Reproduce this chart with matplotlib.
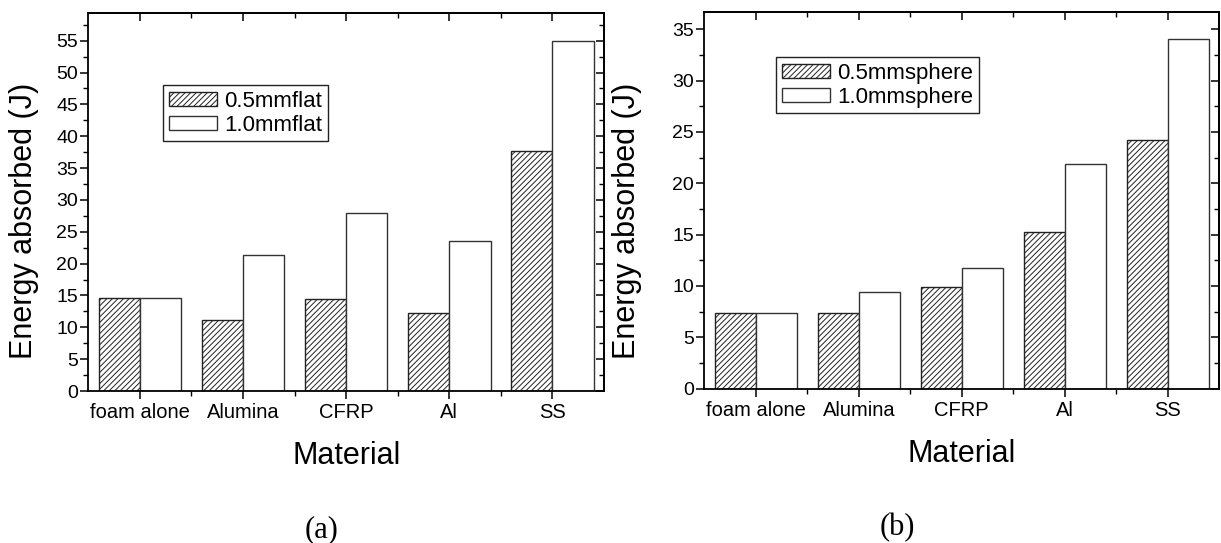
import numpy as np
import matplotlib
matplotlib.use("Agg")
import matplotlib.pyplot as plt
from matplotlib.ticker import MultipleLocator

plt.rcParams['font.family'] = ['Liberation Sans', 'DejaVu Sans']
plt.rcParams['hatch.linewidth'] = 0.7

materials = ["foam alone", "Alumina", "CFRP", "Al", "SS"]

# (a) flat impactor
flat_labels = ["0.5mmflat", "1.0mmflat"]
flat_05 = [14.6, 11.2, 14.4, 12.2, 37.7]
flat_10 = [14.6, 21.3, 27.9, 23.5, 55.0]

# (b) spherical impactor
sphere_labels = ["0.5mmsphere", "1.0mmsphere"]
sphere_05 = [7.34, 7.4, 9.88, 15.23, 24.2]
sphere_10 = [7.34, 9.39, 11.76, 21.86, 34.03]

W, H = 1221, 543
fig = plt.figure(figsize=(W / 100, H / 100), dpi=100)


def fx(px):
    return px / W


def fy(py):
    return 1 - py / H


def panel(rect, a, b, labels, ymax, legend_box):
    ax = fig.add_axes(rect)
    x = np.arange(len(materials))
    bw = 0.4
    ax.bar(x - bw / 2, a, bw, facecolor='white', edgecolor='#222222',
           hatch='//////', linewidth=1.0, label=labels[0])
    ax.bar(x + bw / 2, b, bw, facecolor='white', edgecolor='#333333',
           linewidth=1.0, label=labels[1])
    ax.set_xlim(-0.5, 4.5)
    ax.set_ylim(0, ymax)
    ax.set_xticks(x)
    ax.set_xticklabels(materials)
    ax.set_xticks(x[:-1] + 0.5, minor=True)
    ax.yaxis.set_major_locator(MultipleLocator(5))
    ax.yaxis.set_minor_locator(MultipleLocator(2.5))
    for s in ax.spines.values():
        s.set_linewidth(1.3)
        s.set_color('black')
    ax.tick_params(axis='both', which='major', length=6, width=1.1,
                   direction='out', labelsize=14, pad=1.5)
    ax.tick_params(axis='both', which='minor', length=3.5, width=1.0,
                   direction='out')
    ax.tick_params(axis='x', which='major', labelsize=14.5, pad=3)
    # Mirror ticks on top and right, pointing inward
    ax2 = ax.secondary_xaxis('top')
    ax2.set_xticks(x)
    ax2.set_xticks(x[:-1] + 0.5, minor=True)
    ax2.tick_params(which='major', direction='in', length=6, width=1.1,
                    labeltop=False)
    ax2.tick_params(which='minor', direction='in', length=3.5, width=1.0)
    ax2.spines['top'].set_linewidth(1.3)
    ay2 = ax.secondary_yaxis('right')
    ay2.yaxis.set_major_locator(MultipleLocator(5))
    ay2.yaxis.set_minor_locator(MultipleLocator(2.5))
    ay2.tick_params(which='major', direction='in', length=6, width=1.1,
                    labelright=False)
    ay2.tick_params(which='minor', direction='in', length=3.5, width=1.0)
    ay2.spines['right'].set_linewidth(1.3)

    leg = ax.legend(loc='upper left', bbox_to_anchor=legend_box,
                    bbox_transform=fig.transFigure, fontsize=16,
                    frameon=True, fancybox=False, framealpha=1,
                    edgecolor='#222222', handlelength=2.2,
                    handleheight=0.62, handletextpad=0.3,
                    labelspacing=0.15, borderpad=0.25, borderaxespad=0)
    leg.get_frame().set_linewidth(1.0)
    return ax


panel([fx(88.3), fy(391), fx(604) - fx(88.3), fy(13.3) - fy(391)],
      flat_05, flat_10, flat_labels, 59.3, (fx(163), fy(85)))
panel([fx(704.3), fy(388.7), fx(1219.3) - fx(704.3), fy(11.7) - fy(388.7)],
      sphere_05, sphere_10, sphere_labels, 36.7, (fx(776), fy(57)))

# Axis titles
for xc in (24, 627):
    fig.text(fx(xc), fy(221), "Energy absorbed (J)", rotation=90,
             ha='center', va='center', fontsize=22)
fig.text(fx(347), fy(464), "Material", ha='center', va='baseline',
         fontsize=22)
fig.text(fx(962), fy(462), "Material", ha='center', va='baseline',
         fontsize=22)

# Panel captions
fig.text(fx(322), fy(537), "(a)", ha='center', va='baseline',
         fontsize=22, family=['Liberation Serif', 'DejaVu Serif'])
fig.text(fx(897), fy(535), "(b)", ha='center', va='baseline',
         fontsize=22, family=['Liberation Serif', 'DejaVu Serif'])

fig.savefig("out.png", dpi=100)
